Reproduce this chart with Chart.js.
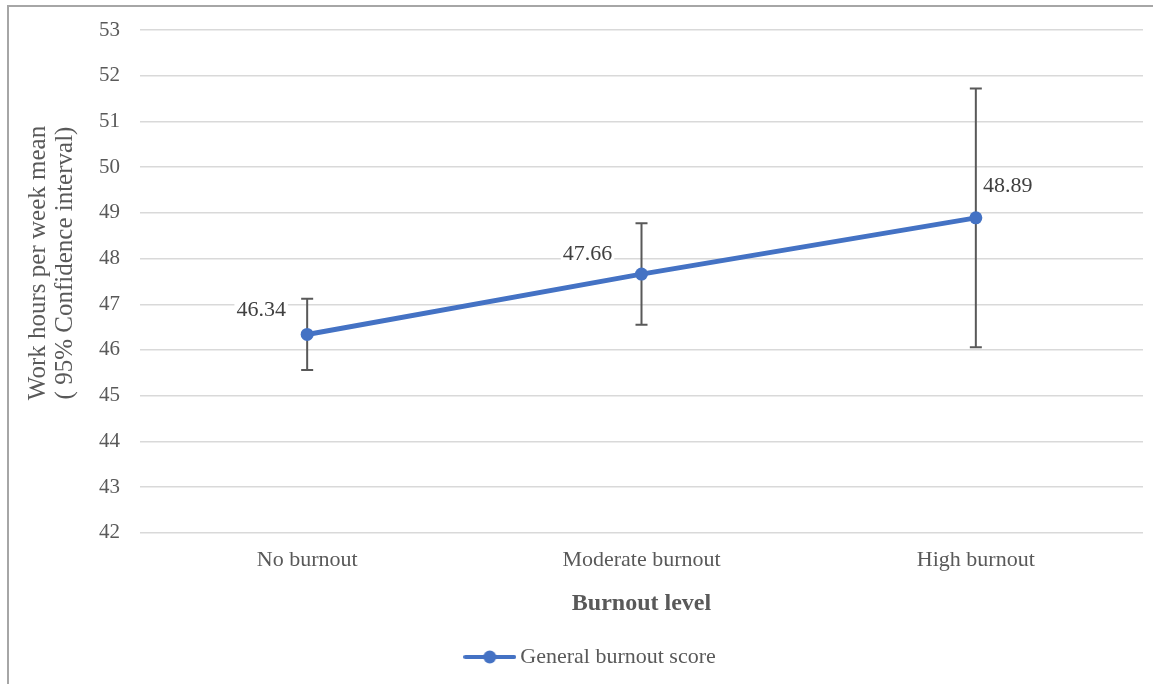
<!doctype html>
<html lang="en">
<head>
<meta charset="utf-8">
<title>Work hours per week by burnout level</title>
<script src="https://cdn.jsdelivr.net/npm/chart.js"></script>
<style>
  html, body { margin: 0; padding: 0; background: #fff; overflow: hidden; }
  #frame { position: absolute; left: 7px; top: 5px; width: 1146px; height: 679px;
           border-left: 2px solid #a6a6a6; border-top: 2px solid #a6a6a6; }
  #wrap { position: absolute; left: 0; top: 0; width: 1153px; height: 684px; }
</style>
</head>
<body>
<div id="frame"></div>
<div id="wrap"><canvas id="burnoutChart"></canvas></div>
<script>
// values
var categories = ['No burnout', 'Moderate burnout', 'High burnout'];
var meanHours = [46.34, 47.66, 48.89];
var ciLower = [45.56, 46.55, 46.06];
var ciUpper = [47.12, 48.77, 51.72];
var yMin = 42, yMax = 53, yStep = 1;
var seriesName = 'General burnout score';
var xTitle = 'Burnout level';
var yTitleLines = ['Work hours per week mean', '( 95% Confidence interval)'];

var FONT = '"Liberation Serif", "Times New Roman", serif';
var BLUE = '#4472C4';
var GREY = '#595959';

// legend marker: line with a dot, like the office chart
var legendImg = document.createElement('canvas');
legendImg.width = 53; legendImg.height = 14;
(function () {
  var c = legendImg.getContext('2d');
  c.strokeStyle = BLUE; c.lineWidth = 4; c.lineCap = 'round';
  c.beginPath(); c.moveTo(2, 7); c.lineTo(51, 7); c.stroke();
  c.fillStyle = BLUE;
  c.beginPath(); c.arc(26.5, 7, 6.5, 0, Math.PI * 2); c.fill();
})();

const errorBars = {
  id: 'errorBars',
  beforeDatasetsDraw(chart, args, opts) {
    const ctx = chart.ctx, xs = chart.scales.x, ys = chart.scales.y;
    ctx.save();
    ctx.strokeStyle = opts.color;
    ctx.lineWidth = opts.width;
    categories.forEach((c, i) => {
      const px = xs.getPixelForValue(i);
      const top = ys.getPixelForValue(ciUpper[i]);
      const bot = ys.getPixelForValue(ciLower[i]);
      ctx.beginPath();
      ctx.moveTo(px, top); ctx.lineTo(px, bot);
      ctx.moveTo(px - opts.cap, top); ctx.lineTo(px + opts.cap, top);
      ctx.moveTo(px - opts.cap, bot); ctx.lineTo(px + opts.cap, bot);
      ctx.stroke();
    });
    ctx.restore();
  }
};

const valueLabels = {
  id: 'valueLabels',
  afterDatasetsDraw(chart, args, opts) {
    const ctx = chart.ctx;
    const pts = chart.getDatasetMeta(0).data;
    ctx.save();
    ctx.font = opts.size + 'px ' + FONT;
    ctx.textAlign = 'center';
    ctx.textBaseline = 'middle';
    pts.forEach((p, i) => {
      const txt = meanHours[i].toFixed(2);
      const cx = p.x + opts.offsets[i][0];
      const cy = p.y + opts.offsets[i][1];
      const w = ctx.measureText(txt).width;
      ctx.fillStyle = '#fff';
      ctx.fillRect(cx - w / 2 - 2, cy - 10, w + 4, 20);
      ctx.fillStyle = opts.color;
      ctx.fillText(txt, cx, cy);
    });
    ctx.restore();
  }
};

const yAxisTitle = {
  id: 'yAxisTitle',
  afterDraw(chart, args, opts) {
    const ctx = chart.ctx;
    ctx.save();
    ctx.font = opts.size + 'px ' + FONT;
    ctx.fillStyle = opts.color;
    ctx.textAlign = 'center';
    ctx.textBaseline = 'middle';
    yTitleLines.forEach((line, i) => {
      ctx.save();
      ctx.translate(opts.x[i], opts.y);
      ctx.rotate(-Math.PI / 2);
      ctx.fillText(line, 0, 0);
      ctx.restore();
    });
    ctx.restore();
  }
};

new Chart(document.getElementById('burnoutChart'), {
  type: 'line',
  data: {
    labels: categories,
    datasets: [{
      label: seriesName,
      data: meanHours,
      borderColor: BLUE,
      backgroundColor: BLUE,
      borderWidth: 5,
      tension: 0,
      pointRadius: 6.5,
      pointBorderWidth: 0,
      pointBackgroundColor: BLUE
    }]
  },
  options: {
    responsive: true,
    maintainAspectRatio: false,
    animation: false,
    layout: { padding: { left: 43, right: 10, top: 30, bottom: 6 } },
    scales: {
      x: {
        offset: true,
        grid: { display: false, drawTicks: false },
        border: { display: false },
        ticks: { color: GREY, font: { family: FONT, size: 22 }, padding: 14 },
        title: {
          display: true, text: xTitle, color: GREY,
          font: { family: FONT, size: 24, weight: 'bold' },
          padding: { top: 2, bottom: 18 }
        }
      },
      y: {
        min: yMin, max: yMax,
        afterFit(scale) { scale.width = 97; },
        grid: { color: '#d9d9d9', lineWidth: 1.5, drawTicks: false },
        border: { display: false },
        ticks: { stepSize: yStep, color: GREY, font: { family: FONT, size: 21, lineHeight: 0.9 }, padding: 20 }
      }
    },
    plugins: {
      legend: {
        position: 'bottom',
        labels: {
          color: GREY,
          font: { family: FONT, size: 22 },
          usePointStyle: true,
          pointStyle: legendImg,
          pointStyleWidth: 39,
          padding: 10
        }
      },
      tooltip: { enabled: false },
      errorBars: { color: '#595959', width: 2, cap: 6 },
      valueLabels: { size: 22, color: '#404040', offsets: [[-46, -24.5], [-54, -19.5], [32, -32]] },
      yAxisTitle: { size: 25, color: GREY, x: [38, 65], y: 263 }
    }
  },
  plugins: [errorBars, valueLabels, yAxisTitle]
});
</script>
</body>
</html>
